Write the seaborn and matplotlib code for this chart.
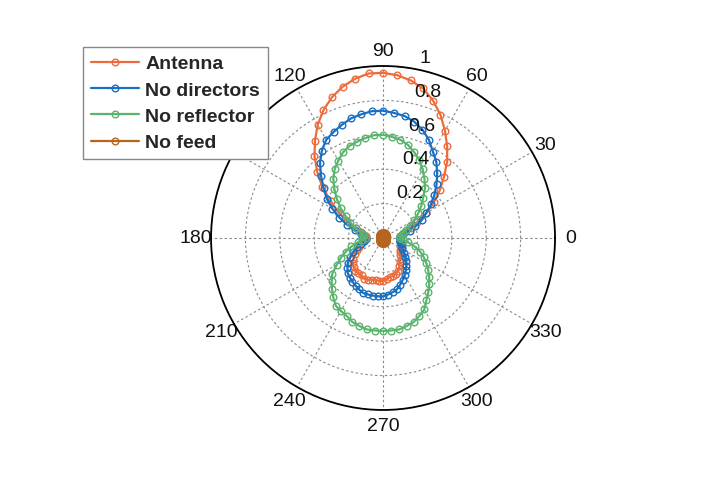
import numpy as np
import pandas as pd
import matplotlib
matplotlib.use("Agg")
import matplotlib.pyplot as plt
import seaborn as sns

# ---- data ----
angles_deg = list(range(0, 360, 5))

antenna = [0.10, 0.10, 0.11, 0.13, 0.17, 0.22, 0.29, 0.36, 0.43, 0.50, 0.58, 0.65, 0.72, 0.79, 0.85, 0.90, 0.93, 0.95,
           0.96, 0.96, 0.94, 0.91, 0.87, 0.82, 0.76, 0.69, 0.62, 0.54, 0.46, 0.37, 0.30, 0.23, 0.17, 0.13, 0.11, 0.10,
           0.10, 0.10, 0.11, 0.13, 0.15, 0.17, 0.19, 0.21, 0.23, 0.24, 0.25, 0.25, 0.25, 0.26, 0.26, 0.25, 0.25, 0.25,
           0.25, 0.24, 0.23, 0.23, 0.22, 0.21, 0.19, 0.17, 0.16, 0.14, 0.13, 0.12, 0.12, 0.11, 0.11, 0.10, 0.10, 0.10]

no_directors = [0.10, 0.10, 0.12, 0.16, 0.20, 0.25, 0.29, 0.34, 0.39, 0.44, 0.49, 0.54, 0.58, 0.63, 0.67, 0.70, 0.72, 0.73,
                0.74, 0.74, 0.73, 0.72, 0.70, 0.68, 0.66, 0.62, 0.57, 0.51, 0.45, 0.40, 0.34, 0.28, 0.22, 0.17, 0.13, 0.11,
                0.10, 0.10, 0.11, 0.13, 0.16, 0.19, 0.22, 0.25, 0.27, 0.29, 0.30, 0.31, 0.32, 0.33, 0.34, 0.34, 0.34, 0.34,
                0.34, 0.33, 0.32, 0.31, 0.29, 0.27, 0.25, 0.23, 0.21, 0.19, 0.17, 0.15, 0.13, 0.12, 0.11, 0.10, 0.10, 0.10]

no_reflector = [0.10, 0.10, 0.11, 0.12, 0.14, 0.17, 0.21, 0.25, 0.29, 0.33, 0.38, 0.42, 0.46, 0.50, 0.53, 0.56, 0.58, 0.59,
                0.60, 0.60, 0.59, 0.58, 0.57, 0.55, 0.52, 0.49, 0.45, 0.40, 0.35, 0.30, 0.25, 0.21, 0.17, 0.14, 0.12, 0.11,
                0.10, 0.12, 0.15, 0.19, 0.23, 0.27, 0.31, 0.36, 0.39, 0.42, 0.45, 0.48, 0.49, 0.50, 0.52, 0.53, 0.54, 0.54,
                0.54, 0.54, 0.54, 0.53, 0.52, 0.50, 0.48, 0.44, 0.41, 0.38, 0.35, 0.32, 0.29, 0.26, 0.23, 0.19, 0.15, 0.12]

no_feed = [0.020, 0.020, 0.020, 0.021, 0.021, 0.022, 0.022, 0.023, 0.024, 0.025, 0.026, 0.027, 0.028, 0.028, 0.029, 0.030, 0.030, 0.030,
           0.030, 0.030, 0.030, 0.029, 0.028, 0.028, 0.027, 0.026, 0.025, 0.024, 0.023, 0.022, 0.022, 0.021, 0.021, 0.020, 0.020, 0.020,
           0.020, 0.020, 0.020, 0.021, 0.021, 0.022, 0.022, 0.023, 0.024, 0.025, 0.026, 0.027, 0.028, 0.028, 0.029, 0.030, 0.030, 0.030,
           0.030, 0.030, 0.030, 0.029, 0.028, 0.028, 0.027, 0.026, 0.025, 0.024, 0.023, 0.022, 0.022, 0.021, 0.021, 0.020, 0.020, 0.020]

series_names = ["Antenna", "No directors", "No reflector", "No feed"]
series_values = [antenna, no_directors, no_reflector, no_feed]
colors = ["#EC6C3C", "#1A6FC0", "#5BB46E", "#B6651F"]

theta_ticks = list(range(0, 360, 30))
r_ticks = [0.2, 0.4, 0.6, 0.8, 1.0]
r_tick_labels = ["0.2", "0.4", "0.6", "0.8", "1"]

# ---- style ----
sns.set_theme(style="white")
plt.rcParams["font.family"] = ["Liberation Sans", "DejaVu Sans"]

fig = plt.figure(figsize=(7.2, 4.85), dpi=100)
ax = fig.add_axes([0.2931, 0.1526, 0.4778, 0.7093], projection="polar")

for name, vals, col in zip(series_names, series_values, colors):
    th = np.deg2rad(np.array(angles_deg + [angles_deg[0] + 360], dtype=float))
    rr = np.array(vals + [vals[0]], dtype=float)
    df = pd.DataFrame({"theta": th, "r": rr})
    sns.lineplot(data=df, x="theta", y="r", sort=False, estimator=None, ax=ax,
                 color=col, lw=1.6, marker="o", markersize=4.8,
                 markerfacecolor="none", markeredgecolor=col, markeredgewidth=1.0,
                 label=name, legend=False)

ax.set_ylim(0, 1)
ax.set_xlabel("")
ax.set_ylabel("")
ax.set_thetagrids(theta_ticks, [str(t) for t in theta_ticks], fontsize=14)
ax.set_rgrids(r_ticks, [""] * len(r_ticks))
ax.tick_params(axis="x", pad=-2, colors="#111111")
ax.grid(True, color="#8a8a8a", linestyle=(0, (2.2, 2.2)), linewidth=0.8)
ax.spines["polar"].set_color("black")
ax.spines["polar"].set_linewidth(1.3)

for r, lbl in zip(r_ticks, r_tick_labels):
    ax.annotate(lbl, xy=(np.deg2rad(80), r), xytext=(5, 2), textcoords="offset points",
                ha="left", va="bottom", fontsize=14, color="#111111")

handles, labels = ax.get_legend_handles_labels()
leg = fig.legend(handles, labels, loc="upper left", bbox_to_anchor=(0.1153, 0.901),
                 bbox_transform=fig.transFigure, borderaxespad=0, frameon=True,
                 fancybox=False, framealpha=1, edgecolor="#888888", numpoints=1,
                 handlelength=2.5, handletextpad=0.3, labelspacing=0.45,
                 borderpad=0.4, prop={"weight": "bold", "size": 14})
leg.get_frame().set_linewidth(1.0)

fig.savefig("out.png", dpi=100, facecolor="white")
